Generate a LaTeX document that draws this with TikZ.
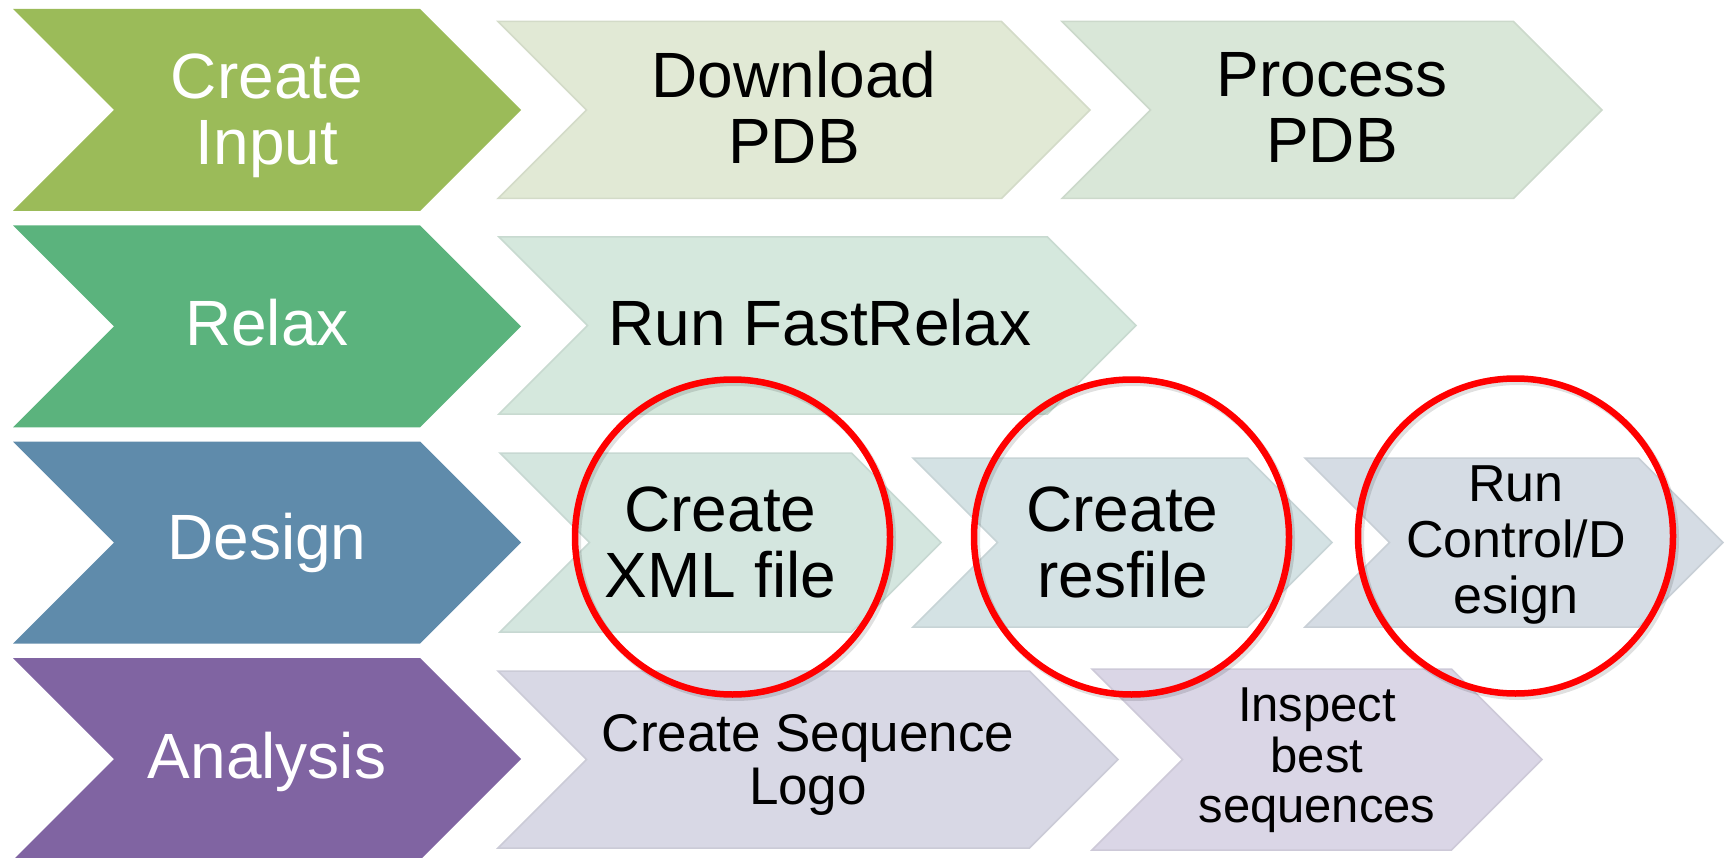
\documentclass[tikz,border=0pt]{standalone}
\usepackage{fontspec}
\setmainfont{Liberation Sans}

% phase colours (left column)
\definecolor{phInput}{RGB}{155,187,89}
\definecolor{phRelax}{RGB}{91,179,125}
\definecolor{phDesign}{RGB}{95,139,171}
\definecolor{phAnalysis}{RGB}{128,100,162}
% step colours (light tints)
\definecolor{stDownload}{RGB}{225,233,213}
\definecolor{stProcess}{RGB}{217,231,216}
\definecolor{stFast}{RGB}{213,232,221}
\definecolor{stXml}{RGB}{212,230,223}
\definecolor{stRes}{RGB}{212,226,228}
\definecolor{stRun}{RGB}{213,220,228}
\definecolor{stLogo}{RGB}{216,216,229}
\definecolor{stInspect}{RGB}{218,214,230}

% chevron: #1 style, #2 left x, #3 tip x, #4 centre y, #5 half height
\newcommand\chevron[5]{%
  \path[#1] (#2,{#4-#5}) -- ({#3-#5},{#4-#5}) -- (#3,#4)
    -- ({#3-#5},{#4+#5}) -- (#2,{#4+#5}) -- ({#2+#5},#4) -- cycle;}

\tikzset{
  textsize/.style 2 args={font=\fontsize{#1}{#2}\selectfont},
  phaseshape/.style={fill=#1},
  stepshape/.style={fill=#1, draw=#1!94!black, line width=1.5pt, line join=miter},
  phaselabel/.style={text=white, align=center, inner sep=0pt, textsize={64}{66}},
  steplabel/.style={text=black, align=center, inner sep=0pt, textsize={64}{66}},
  ring/.style={circle, draw=red, line width=6.5pt, minimum size=315pt, inner sep=0pt},
  ringshadow/.style={draw=black, opacity=0.12, line width=7pt},
}

\begin{document}
\begin{tikzpicture}[x=1pt,y=-1pt]
\useasboundingbox (0,0) rectangle (1731,858);

% left column: phases
\chevron{phaseshape=phInput}{13}{521}{110}{101}
\chevron{phaseshape=phRelax}{13}{521}{326.3}{101}
\chevron{phaseshape=phDesign}{13}{521}{542.5}{101}
\chevron{phaseshape=phAnalysis}{13}{521}{759}{101}

\node[phaselabel] (phInputL)    at (267,115.5) {Create\\Input};
\node[phaselabel] (phRelaxL)    at (267,323)   {Relax};
\node[phaselabel] (phDesignL)   at (267,543)   {Design};
\node[phaselabel] (phAnalysisL) at (267,761.5) {Analysis};

% steps of each phase
\chevron{stepshape=stDownload}{498}{1090}{110}{88.5}
\chevron{stepshape=stProcess}{1062}{1602}{110}{88.5}
\chevron{stepshape=stFast}{499}{1136}{325.5}{88.5}
\chevron{stepshape=stXml}{500}{941}{542.5}{89.5}
\chevron{stepshape=stRes}{913}{1332}{542.5}{84.5}
\chevron{stepshape=stRun}{1305}{1723}{542.5}{84.5}
\chevron{stepshape=stLogo}{498}{1118}{759.5}{88.5}
\chevron{stepshape=stInspect}{1092}{1542}{759.5}{90.5}

\node[steplabel] (download)  at (794,107)    {Download\\PDB};
\node[steplabel] (process)   at (1332,107)   {Process\\PDB};
\node[steplabel] (fastrelax) at (820,323)    {Run FastRelax};
\node[steplabel] (xmlfile)   at (720.5,542)  {Create\\XML file};
\node[steplabel] (resfile)   at (1122.5,542) {Create\\resfile};
\node[steplabel, textsize={52}{56}] (rundesign) at (1516,545.5) {Run\\Control/D\\esign};
\node[steplabel, textsize={53}{53}] (seqlogo)   at (808,765)    {Create Sequence\\Logo};
\node[steplabel, textsize={49}{50.5}] (inspect) at (1317,760.5) {Inspect\\best\\sequences};

% highlighted steps
\draw[ringshadow] (735,540) circle (157.5);
\draw[ringshadow] (1134,540) circle (157.5);
\draw[ringshadow] (1518,539) circle (157.5);
\node[ring] (ringXml) at (732.5,537) {};
\node[ring] (ringRes) at (1131.5,537) {};
\node[ring] (ringRun) at (1515.5,536) {};
\end{tikzpicture}
\end{document}
